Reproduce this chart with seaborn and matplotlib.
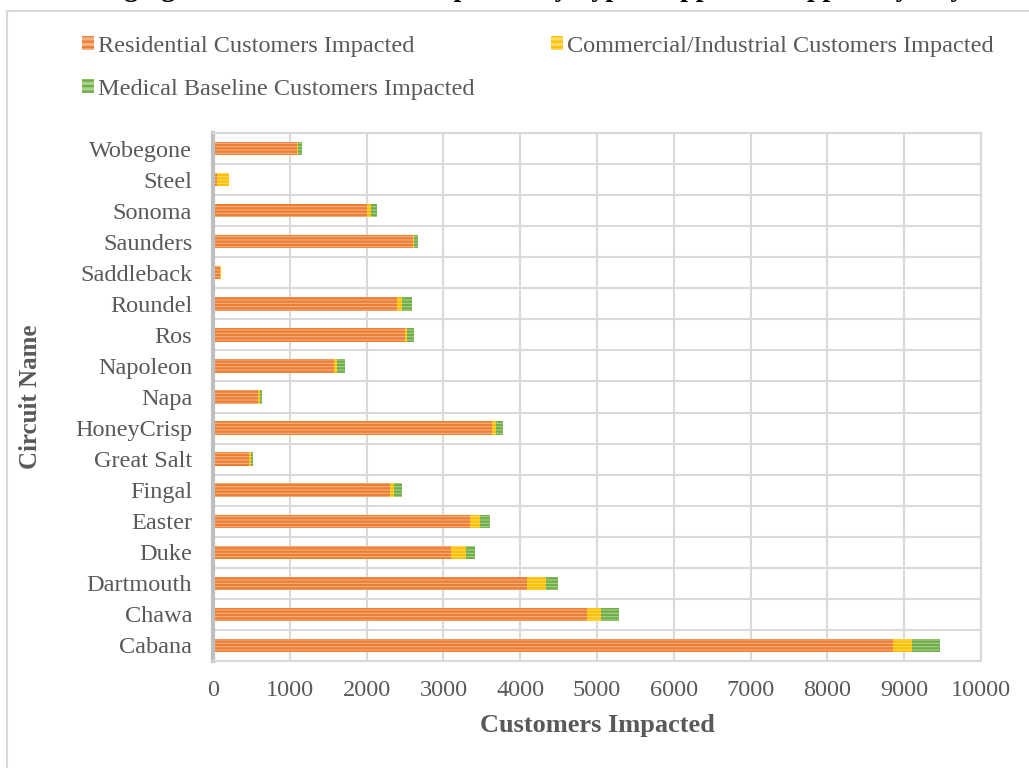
import matplotlib
matplotlib.use("Agg")
import matplotlib.pyplot as plt
import seaborn as sns
import pandas as pd
import numpy as np
from matplotlib.patches import Patch
from matplotlib.lines import Line2D

circuits = ["Wobegone", "Steel", "Sonoma", "Saunders", "Saddleback", "Roundel", "Ros",
            "Napoleon", "Napa", "HoneyCrisp", "Great Salt", "Fingal", "Easter", "Duke",
            "Dartmouth", "Chawa", "Cabana"]
residential = [1095, 55, 2010, 2600, 95, 2400, 2505, 1570, 590, 3635, 475, 2300, 3340, 3100, 4095, 4870, 8860]
commercial = [15, 150, 45, 20, 5, 55, 25, 50, 22, 45, 20, 60, 140, 190, 235, 185, 245]
medical = [55, 0, 85, 50, 5, 135, 85, 95, 27, 90, 22, 100, 130, 125, 160, 225, 355]
series_names = ["Residential Customers Impacted", "Commercial/Industrial Customers Impacted",
                "Medical Baseline Customers Impacted"]
x_ticks = [0, 1000, 2000, 3000, 4000, 5000, 6000, 7000, 8000, 9000, 10000]

df = pd.DataFrame({"Circuit": circuits, "Res": residential, "Com": commercial, "Med": medical})
df["ResCom"] = df["Res"] + df["Com"]
df["Total"] = df["ResCom"] + df["Med"]

sns.set_theme(style="white")
plt.rcParams["font.family"] = ["Liberation Serif", "DejaVu Serif"]
plt.rcParams["hatch.linewidth"] = 1.6

fig = plt.figure(figsize=(10.29, 7.68), dpi=100)
ax = fig.add_axes([213 / 1029, 1 - 661 / 768, (981 - 213) / 1029, (661 - 133) / 768])

txt = "#595959"
styles = [("#F4B183", "#ED7D31"), ("#FFD966", "#FFC000"), ("#A9D18E", "#70AD47")]
cols = ["Total", "ResCom", "Res"]
sty_for = [styles[2], styles[1], styles[0]]
for col, (face, hatchc) in zip(cols, sty_for):
    sns.barplot(data=df, x=col, y="Circuit", order=circuits, orient="h", ax=ax,
                width=0.43, color=face, saturation=1, errorbar=None,
                edgecolor=hatchc, linewidth=0, hatch="-----")
for p in ax.patches:
    p.set_linewidth(0)

ax.set_xlim(0, 10000)
ax.set_ylim(len(circuits) - 0.5, -0.5)
ax.set_xticks(x_ticks)
ax.set_xticklabels([str(t) for t in x_ticks])
ax.set_yticks(np.arange(len(circuits)))
ax.set_yticklabels(circuits)
ax.set_yticks(np.arange(len(circuits) + 1) - 0.5, minor=True)
ax.grid(axis="x", which="major", color="#D9D9D9", lw=1.5)
ax.grid(axis="y", which="minor", color="#D9D9D9", lw=1.5)
ax.grid(axis="y", which="major", visible=False)
ax.set_axisbelow(True)
ax.tick_params(axis="both", which="both", length=0, labelsize=17.5, labelcolor=txt)
ax.tick_params(axis="x", pad=14)
ax.tick_params(axis="y", pad=15)
for s in ["top", "right", "bottom"]:
    ax.spines[s].set_color("#D9D9D9")
    ax.spines[s].set_linewidth(1.5)
ax.spines["left"].set_color("#BFBFBF")
ax.spines["left"].set_linewidth(3)

ax.set_xlabel("Customers Impacted", fontsize=19, fontweight="bold", color=txt, labelpad=9)
ax.set_ylabel("Circuit Name", fontsize=18, fontweight="bold", color=txt, labelpad=24)

handles = [Patch(facecolor=styles[0][0], edgecolor=styles[0][1], hatch="---", linewidth=0),
           Patch(facecolor=styles[2][0], edgecolor=styles[2][1], hatch="---", linewidth=0),
           Patch(facecolor=styles[1][0], edgecolor=styles[1][1], hatch="---", linewidth=0)]
labels = [series_names[0], series_names[2], series_names[1]]
leg = fig.legend(handles, labels, ncol=2, loc="upper left", bbox_to_anchor=(82 / 1029, 1 - 36 / 768),
                 frameon=False, fontsize=17.5, handlelength=0.5, handleheight=0.5, handletextpad=0.15,
                 columnspacing=3.15, labelspacing=0.89, borderaxespad=0, borderpad=0)
for t in leg.get_texts():
    t.set_color(txt)

fig.text(0.5, 1 + 3.5 / 768,
         "Outaging Circuits Customers Impacted by Type Mapped to Support by Day",
         ha="center", va="baseline", fontsize=20, fontweight="bold", color="black")

fig.add_artist(Line2D([6.5 / 1029, 1.0], [1 - 10.5 / 768, 1 - 10.5 / 768], color="#D9D9D9", lw=1.5,
                      transform=fig.transFigure))
fig.add_artist(Line2D([6.5 / 1029, 6.5 / 1029], [0, 1 - 10.5 / 768], color="#D9D9D9", lw=1.5,
                      transform=fig.transFigure))

fig.savefig("out.png", dpi=100)
